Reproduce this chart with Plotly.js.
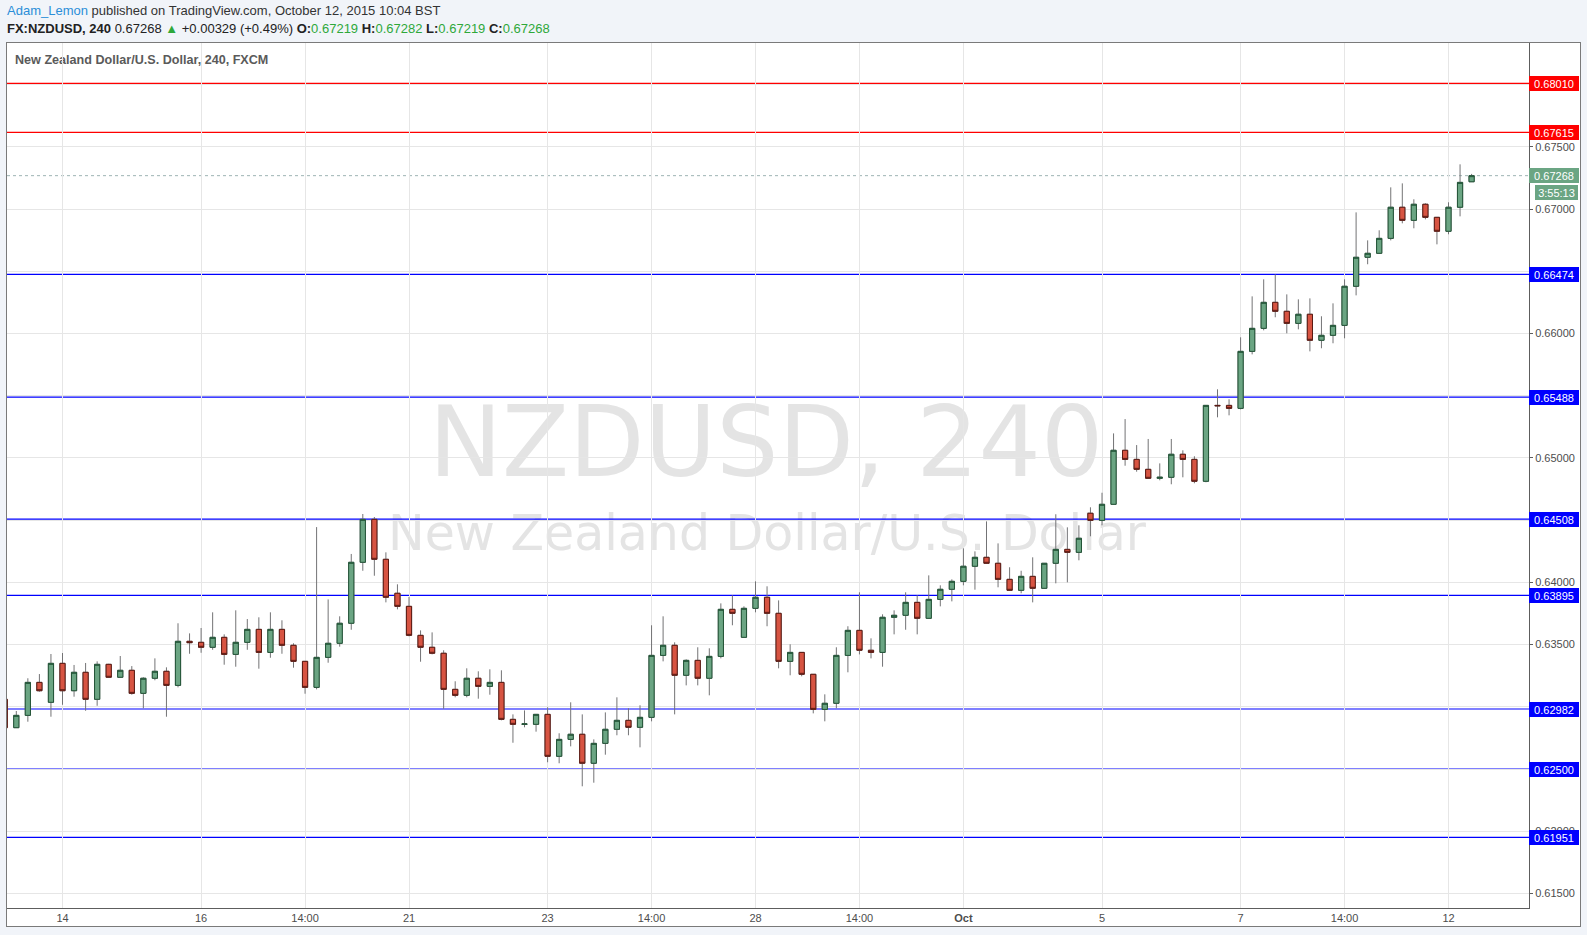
<!DOCTYPE html>
<html><head><meta charset="utf-8">
<script src="https://cdn.plot.ly/plotly-3.0.1.min.js"></script>
<style>
html,body{margin:0;padding:0;background:#f1f4f9;width:1587px;height:935px;overflow:hidden;}
#panel{position:absolute;left:6px;top:42px;width:1575px;height:885px;background:#fff;border:1px solid #7a7a7a;box-sizing:border-box;}
#bg{position:absolute;left:0;top:0;}
#chart{position:absolute;left:0;top:0;width:1587px;height:935px;}
</style></head>
<body>
<div id="panel"></div>
<svg id="bg" width="1587" height="935" xmlns="http://www.w3.org/2000/svg">
  <text x="766" y="476" text-anchor="middle" font-family="DejaVu Sans" font-size="98" fill="#e4e4e4">NZDUSD, 240</text>
  <text x="767" y="550" text-anchor="middle" font-family="DejaVu Sans" font-size="49" fill="#e4e4e4">New Zealand Dollar/U.S. Dollar</text>
  <text id="h1" x="7" y="15" font-family="Liberation Sans" font-size="13" fill="#333"></text>
  <text id="h2" x="7" y="33" font-family="Liberation Sans" font-size="13" fill="#222"></text>
  <text x="15" y="64" font-family="Liberation Sans" font-size="12.6" font-weight="bold" fill="#5a5a5a">New Zealand Dollar/U.S. Dollar, 240, FXCM</text>
</svg>
<div id="chart"></div>
<script>
// ---- data (4h bars, FX:NZDUSD) ----
const openP = [0.63060,0.62832,0.62931,0.63196,0.63036,0.63349,0.63129,0.63277,0.63060,0.63341,
0.63237,0.63293,0.63108,0.63229,0.63285,0.63172,0.63526,0.63518,0.63478,0.63558,
0.63421,0.63518,0.63622,0.63437,0.63622,0.63494,0.63365,0.63156,0.63397,0.63510,
0.63671,0.64161,0.64506,0.64185,0.63912,0.63807,0.63574,0.63478,0.63430,0.63140,
0.63092,0.63229,0.63164,0.63196,0.62899,0.62859,0.62859,0.62939,0.62602,0.62738,
0.62779,0.62546,0.62706,0.62819,0.62891,0.62835,0.62915,0.63413,0.63494,0.63253,
0.63373,0.63229,0.63405,0.63783,0.63558,0.63791,0.63880,0.63751,0.63365,0.63437,
0.63261,0.62979,0.63028,0.63413,0.63614,0.63454,0.63437,0.63719,0.63735,0.63839,
0.63711,0.63863,0.63944,0.64008,0.64129,0.64201,0.64153,0.64024,0.63936,0.64048,
0.63952,0.64153,0.64265,0.64241,0.64555,0.64498,0.64627,0.65061,0.64988,0.64908,
0.64836,0.64844,0.65029,0.64988,0.64812,0.65422,0.65422,0.65398,0.65856,0.66041,
0.66250,0.66178,0.66081,0.66154,0.65945,0.65985,0.66065,0.66379,0.66612,0.66644,
0.66764,0.67014,0.66909,0.67038,0.66933,0.66821,0.67014,0.67219];
const highP = [0.63094,0.62966,0.63229,0.63263,0.63424,0.63432,0.63336,0.63352,0.63365,0.63345,
0.63408,0.63327,0.63237,0.63389,0.63317,0.63671,0.63590,0.63633,0.63759,0.63582,
0.63775,0.63705,0.63719,0.63759,0.63695,0.63510,0.63368,0.64444,0.63863,0.63727,
0.64228,0.64549,0.64525,0.64241,0.63984,0.63882,0.63614,0.63598,0.63454,0.63205,
0.63309,0.63285,0.63301,0.63293,0.62939,0.62971,0.62942,0.62996,0.62787,0.63036,
0.62939,0.62738,0.62955,0.63076,0.62988,0.63012,0.63655,0.63727,0.63518,0.63381,
0.63478,0.63470,0.63831,0.63896,0.63807,0.64008,0.63968,0.63855,0.63502,0.63440,
0.63263,0.63100,0.63478,0.63647,0.63920,0.63550,0.63743,0.63775,0.63920,0.63896,
0.64056,0.63976,0.64024,0.64273,0.64249,0.64490,0.64313,0.64121,0.64093,0.64201,
0.64155,0.64547,0.64442,0.64458,0.64603,0.64720,0.65197,0.65312,0.65103,0.65152,
0.64956,0.65152,0.65061,0.65013,0.65425,0.65551,0.65471,0.65969,0.66298,0.66435,
0.66475,0.66314,0.66274,0.66282,0.66138,0.66242,0.66435,0.66973,0.66748,0.66829,
0.67174,0.67206,0.67078,0.67046,0.66936,0.67054,0.67359,0.67282];
const lowP = [0.62797,0.62830,0.62880,0.63121,0.62920,0.63016,0.63081,0.62968,0.63008,0.63237,
0.63235,0.63097,0.62988,0.63213,0.62920,0.63156,0.63426,0.63434,0.63458,0.63338,
0.63322,0.63458,0.63306,0.63394,0.63426,0.63314,0.63105,0.63140,0.63354,0.63483,
0.63619,0.64093,0.64053,0.63839,0.63783,0.63566,0.63362,0.63421,0.62984,0.63076,
0.63076,0.63065,0.63097,0.62891,0.62711,0.62835,0.62800,0.62554,0.62546,0.62682,
0.62361,0.62390,0.62615,0.62771,0.62771,0.62674,0.62883,0.63365,0.62939,0.63172,
0.63172,0.63092,0.63389,0.63655,0.63555,0.63759,0.63647,0.63309,0.63253,0.63245,
0.62947,0.62883,0.62988,0.63277,0.63421,0.63389,0.63322,0.63582,0.63619,0.63582,
0.63708,0.63807,0.63847,0.63976,0.63941,0.64150,0.63960,0.63940,0.63912,0.63839,
0.63950,0.63992,0.64000,0.64177,0.64370,0.64458,0.64625,0.64937,0.64889,0.64835,
0.64820,0.64788,0.64844,0.64796,0.64804,0.65326,0.65342,0.65390,0.65832,0.66025,
0.66130,0.66001,0.66033,0.65856,0.65881,0.65921,0.65961,0.66306,0.66556,0.66640,
0.66748,0.66885,0.66845,0.66917,0.66716,0.66797,0.66941,0.67219];
const closeP = [0.62832,0.62931,0.63196,0.63129,0.63349,0.63129,0.63277,0.63060,0.63341,0.63237,
0.63293,0.63108,0.63229,0.63285,0.63172,0.63526,0.63515,0.63478,0.63558,0.63421,
0.63518,0.63622,0.63437,0.63622,0.63494,0.63365,0.63156,0.63397,0.63510,0.63671,
0.64161,0.64506,0.64185,0.63880,0.63807,0.63574,0.63478,0.63430,0.63140,0.63092,
0.63229,0.63164,0.63196,0.62899,0.62859,0.62862,0.62939,0.62602,0.62738,0.62779,
0.62546,0.62706,0.62819,0.62891,0.62835,0.62915,0.63413,0.63494,0.63253,0.63373,
0.63229,0.63405,0.63783,0.63751,0.63791,0.63880,0.63751,0.63365,0.63437,0.63261,
0.62979,0.63028,0.63413,0.63614,0.63454,0.63437,0.63719,0.63735,0.63839,0.63711,
0.63863,0.63944,0.64008,0.64129,0.64201,0.64153,0.64024,0.63936,0.64048,0.63952,
0.64153,0.64265,0.64241,0.64354,0.64498,0.64627,0.65061,0.64988,0.64908,0.64836,
0.64844,0.65029,0.64988,0.64812,0.65422,0.65419,0.65398,0.65856,0.66041,0.66250,
0.66178,0.66081,0.66154,0.65945,0.65985,0.66065,0.66379,0.66612,0.66644,0.66764,
0.67014,0.66909,0.67038,0.66933,0.66821,0.67014,0.67214,0.67268];
const tickBars   = [5,17,26,35,47,56,65,74,83,95,107,116,125];
const tickLabels = ['14','16','14:00','21','23','14:00','28','14:00','<b>Oct</b>','5','7','14:00','12'];
const redLevels  = [0.68010, 0.67615];
const blueLevels = [0.66474, 0.65488, 0.64508, 0.63895, 0.62982, 0.62500, 0.61951];
const changeAbs = 0.00329, changePct = 0.49;
const countdown = '3:55:13';

// ---- header text ----
const n = openP.length - 1;
const G = '#2ea83a';
document.getElementById('h1').innerHTML =
  '<tspan fill="#2b8ed8">Adam_Lemon</tspan><tspan> published on TradingView.com, October 12, 2015 10:04 BST</tspan>';
document.getElementById('h2').innerHTML =
  '<tspan font-weight="bold">FX:NZDUSD, 240</tspan><tspan> ' + closeP[n].toFixed(5) + ' </tspan>' +
  '<tspan fill="' + G + '">\u25B2</tspan><tspan> +' + changeAbs.toFixed(5) + ' (+' + changePct.toFixed(2) + '%) </tspan>' +
  '<tspan font-weight="bold">O:</tspan><tspan fill="' + G + '">' + openP[n].toFixed(5) + '</tspan>' +
  '<tspan font-weight="bold"> H:</tspan><tspan fill="' + G + '">' + highP[n].toFixed(5) + '</tspan>' +
  '<tspan font-weight="bold"> L:</tspan><tspan fill="' + G + '">' + lowP[n].toFixed(5) + '</tspan>' +
  '<tspan font-weight="bold"> C:</tspan><tspan fill="' + G + '">' + closeP[n].toFixed(5) + '</tspan>';

// ---- traces ----
const bars = openP.map((_, i) => i);
const bodyHigh = openP.map((o, i) => Math.max(o, closeP[i]));
const bodyLow  = openP.map((o, i) => Math.min(o, closeP[i]));
const WICK = '#737375';
const wicks = {
  type: 'candlestick', x: bars, open: openP, high: highP, low: lowP, close: closeP,
  increasing: {line: {color: WICK, width: 1}, fillcolor: 'rgba(0,0,0,0)'},
  decreasing: {line: {color: WICK, width: 1}, fillcolor: 'rgba(0,0,0,0)'},
  whiskerwidth: 0, hoverinfo: 'skip', showlegend: false
};
const bodies = {
  type: 'candlestick', x: bars, open: openP, high: bodyHigh, low: bodyLow, close: closeP,
  increasing: {line: {color: '#225437', width: 1}, fillcolor: '#6ba583'},
  decreasing: {line: {color: '#5b1a13', width: 1}, fillcolor: '#d75442'},
  whiskerwidth: 0, showlegend: false
};

// ---- levels ----
const shapes = [];
const annotations = [];
const FONT = 'Liberation Sans, Arial, sans-serif';
function level(v, col) {
  shapes.push({type: 'line', xref: 'paper', x0: 0, x1: 1, yref: 'y', y0: v, y1: v,
               line: {color: col, width: 1.2}, layer: 'between'});
  annotations.push({xref: 'paper', x: 1, xanchor: 'left', yref: 'y', y: v, yanchor: 'middle',
    text: v.toFixed(5), showarrow: false, font: {family: FONT, size: 11, color: '#ffffff'},
    bgcolor: col, borderpad: 2, borderwidth: 0, width: 46, height: 11, align: 'center'});
}
redLevels.forEach(v => level(v, '#ff0000'));
blueLevels.forEach(v => level(v, '#0000ff'));
const last = closeP[n];
shapes.push({type: 'line', xref: 'paper', x0: 0, x1: 1, yref: 'y', y0: last, y1: last,
             line: {color: '#9db3b3', width: 1, dash: 'dot'}, layer: 'between'});
annotations.push({xref: 'paper', x: 1, xanchor: 'left', yref: 'y', y: last, yanchor: 'middle',
  text: last.toFixed(5), showarrow: false, font: {family: FONT, size: 11, color: '#ffffff'},
  bgcolor: '#6ba583', borderpad: 2, borderwidth: 0, width: 46, height: 11, align: 'center'});
annotations.push({xref: 'paper', x: 1.0322, xanchor: 'right', yref: 'y', y: last, yanchor: 'middle', yshift: -16.5,
  text: countdown, showarrow: false, font: {family: FONT, size: 11, color: '#ffffff'},
  bgcolor: '#6ba583', borderpad: 2, borderwidth: 0, width: 39, height: 11, align: 'center'});

const axFont = {family: FONT, size: 11, color: '#4d4d4d'};
const layout = {
  width: 1587, height: 935,
  margin: {l: 7, r: 58, t: 43, b: 27, pad: 0},
  paper_bgcolor: 'rgba(0,0,0,0)', plot_bgcolor: 'rgba(0,0,0,0)',
  showlegend: false, boxmode: 'overlay', boxgap: 0.55, boxgroupgap: 0,
  xaxis: {type: 'linear', range: [0.195, 131.97], tickmode: 'array', tickvals: tickBars, ticktext: tickLabels,
    showgrid: true, gridcolor: '#e6e6e6', gridwidth: 1, zeroline: false,
    showline: true, linecolor: '#5d5d5d', linewidth: 1, ticks: '', tickfont: axFont,
    rangeslider: {visible: false}, fixedrange: true},
  yaxis: {side: 'right', range: [0.61383, 0.68334], tick0: 0.615, dtick: 0.005, tickformat: '.5f',
    showgrid: true, gridcolor: '#e6e6e6', gridwidth: 1, zeroline: false,
    showline: true, linecolor: '#5d5d5d', linewidth: 1,
    ticks: 'outside', ticklen: 3, tickcolor: '#5d5d5d', tickfont: axFont, fixedrange: true},
  shapes: shapes, annotations: annotations
};
Plotly.newPlot('chart', [wicks, bodies], layout, {displayModeBar: false, staticPlot: true});
</script>
</body></html>
